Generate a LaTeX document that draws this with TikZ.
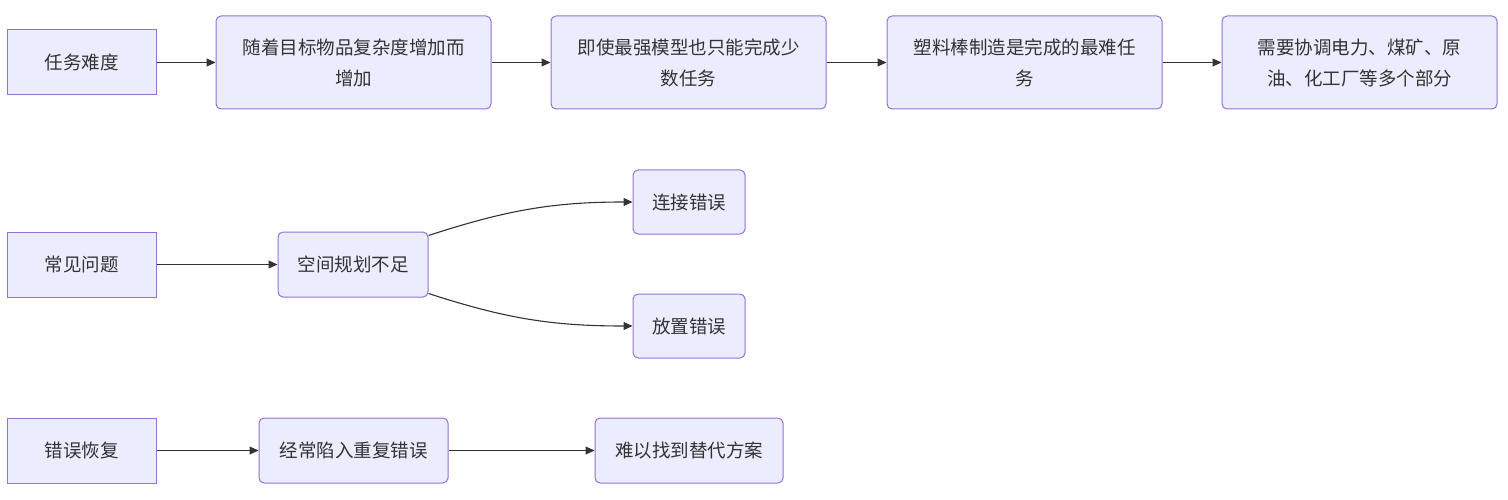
\documentclass[tikz,border=0pt]{standalone}
\usepackage{fontspec}
\setmainfont{Noto Sans CJK SC}
\usetikzlibrary{arrows.meta,positioning}

\definecolor{boxfill}{HTML}{ECECFF}
\definecolor{boxline}{HTML}{9370DB}
\definecolor{ink}{HTML}{333333}

\begin{document}
\begin{tikzpicture}[x=1pt,y=-1pt,>={Triangle[length=9pt,width=8pt]}]
\tikzstyle{every node}=[font=\fontsize{18.5}{31}\selectfont,text=ink,align=center]
\tikzstyle{head}=[draw=boxline,fill=boxfill,line width=1pt,minimum width=149pt,minimum height=65pt,inner sep=0pt]
\tikzstyle{item}=[head,rounded corners=5pt]
\tikzstyle{link}=[->,color=ink,line width=1.1pt]

\useasboundingbox (0,0) rectangle (1508,500);

% difficulty
\node[head]                         (diff)  at (81.5,62.5)  {任务难度};
\node[item,minimum width=275pt,minimum height=93pt] (grow)  at (353.5,62.5) {随着目标物品复杂度增加而\\增加};
\node[item,minimum width=275pt,minimum height=93pt] (few)   at (688.5,62.5) {即使最强模型也只能完成少\\数任务};
\node[item,minimum width=275pt,minimum height=93pt] (rod)   at (1024.5,62.5) {塑料棒制造是完成的最难任\\务};
\node[item,minimum width=275pt,minimum height=93pt] (parts) at (1359.5,62.5) {需要协调电力、煤矿、原\\油、化工厂等多个部分};

% common problems
\node[head]                         (prob)  at (81.5,264.5) {常见问题};
\node[item,minimum width=150pt]     (space) at (353,264.5)  {空间规划不足};
\node[item,minimum width=112pt,minimum height=64pt] (conn)  at (689,202) {连接错误};
\node[item,minimum width=112pt,minimum height=64pt] (place) at (689,326) {放置错误};

% recovery
\node[head]                         (recov) at (81.5,450.5) {错误恢复};
\node[item,minimum width=189pt]     (loop)  at (353.5,450.5) {经常陷入重复错误};
\node[item,minimum width=188pt]     (alt)   at (689,450.5)  {难以找到替代方案};

\path[link]
(diff)  edge (grow)
(grow)  edge (few)
(few)   edge (rod)
(rod)   edge (parts)
(prob)  edge (space)
([yshift=-4pt]space.north east) edge [out=18,in=180] (conn)
([yshift=4pt]space.south east)  edge [out=-18,in=180] (place)
(recov) edge (loop)
(loop)  edge (alt);

\end{tikzpicture}
\end{document}
